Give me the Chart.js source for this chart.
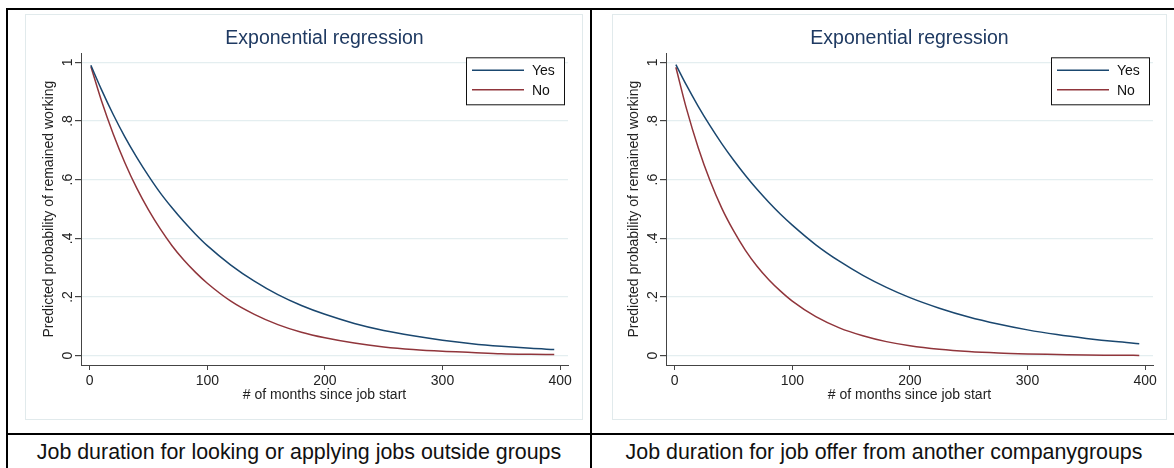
<!DOCTYPE html>
<html>
<head>
<meta charset="utf-8">
<script src="https://cdn.jsdelivr.net/npm/chart.js"></script>
<style>
  body { margin: 0; background: #fff; width: 1174px; height: 468px; overflow: hidden; position: relative; font-family: "Liberation Sans", Arial, sans-serif; }
  .rule { position: absolute; background: #000; }
  .frame { position: absolute; border: 1px solid #e1eaec; box-sizing: border-box; }
  canvas { position: absolute; }
  .caption { position: absolute; top: 435px; height: 35px; line-height: 35px; text-align: center; font-size: 21.4px; color: #111; white-space: nowrap; }
</style>
</head>
<body>
  <div class="rule" style="left:6px;top:8px;width:1170px;height:2px"></div>
  <div class="rule" style="left:6px;top:8px;width:2px;height:470px"></div>
  <div class="rule" style="left:590px;top:8px;width:2px;height:470px"></div>
  <div class="rule" style="left:6px;top:433px;width:1170px;height:2px"></div>

  <div class="frame" style="left:25px;top:14px;width:558px;height:406px"></div>
  <div class="frame" style="left:612px;top:14px;width:555px;height:406px"></div>

  <canvas id="chartLooking" width="557" height="406" style="left:25px;top:14px"></canvas>
  <canvas id="chartOffer" width="557" height="406" style="left:610px;top:14px"></canvas>

  <div class="caption" style="left:8px;width:582px">Job duration for looking or applying jobs outside groups</div>
  <div class="caption" style="left:592px;width:584px">Job duration for job offer from another companygroups</div>

<script>
// months since job start
const months = [1, 10, 20, 30, 40, 50, 60, 70, 80, 90, 100, 120, 140, 160, 180, 200, 225, 250, 275, 300, 325, 350, 375, 395];

// panel 1: looking or applying jobs outside groups
const yesLooking = [0.99, 0.907, 0.822, 0.745, 0.676, 0.613, 0.555, 0.504, 0.457, 0.414, 0.375, 0.309, 0.254, 0.208, 0.171, 0.141, 0.110, 0.086, 0.068, 0.053, 0.041, 0.032, 0.025, 0.021];
const noLooking = [0.986, 0.869, 0.756, 0.657, 0.571, 0.497, 0.432, 0.375, 0.326, 0.284, 0.247, 0.186, 0.141, 0.106, 0.080, 0.061, 0.043, 0.030, 0.021, 0.015, 0.011, 0.007, 0.005, 0.004];

// panel 2: job offer from another company
const yesOffer = [0.992, 0.922, 0.850, 0.784, 0.723, 0.667, 0.615, 0.567, 0.523, 0.482, 0.445, 0.378, 0.322, 0.274, 0.233, 0.198, 0.162, 0.132, 0.108, 0.088, 0.072, 0.059, 0.048, 0.041];
const noOffer = [0.983, 0.842, 0.709, 0.597, 0.503, 0.426, 0.360, 0.305, 0.259, 0.220, 0.186, 0.133, 0.095, 0.068, 0.048, 0.034, 0.022, 0.014, 0.009, 0.006, 0.004, 0.002, 0.0016, 0.001];

const seriesNames = ['Yes', 'No'];
const xTicks = [0, 100, 200, 300, 400];
const yTicks = [0, 0.2, 0.4, 0.6, 0.8, 1];
const yTickLabels = ['0', '.2', '.4', '.6', '.8', '1'];

const FONT = '"Liberation Sans", Arial, sans-serif';
const NAVY = '#1a476f';
const MAROON = '#90353b';

// stata style legend box in the upper right of the plot
const boxLegend = {
    id: 'boxLegend',
    afterDatasetsDraw(chart) {
        const ctx = chart.ctx;
        const area = chart.chartArea;
        const w = 98, h = 47;
        const left = area.right - 4 - w;
        const top = area.top + 4;
        ctx.save();
        ctx.fillStyle = '#fff';
        ctx.fillRect(left, top, w, h);
        ctx.strokeStyle = '#111';
        ctx.lineWidth = 1;
        ctx.strokeRect(left + 0.5, top + 0.5, w, h);
        ctx.font = '14px ' + FONT;
        ctx.textBaseline = 'middle';
        chart.data.datasets.forEach((ds, i) => {
            const y = top + 13 + i * 19.5;
            ctx.strokeStyle = ds.borderColor;
            ctx.lineWidth = 1.5;
            ctx.beginPath();
            ctx.moveTo(left + 6, y);
            ctx.lineTo(left + 58, y);
            ctx.stroke();
            ctx.fillStyle = '#111';
            ctx.fillText(ds.label, left + 66, y + 1);
        });
        ctx.restore();
    }
};

function makeChart(canvasId, yesData, noData) {
    const toPoints = (vals) => vals.map((v, i) => ({ x: months[i], y: v }));
    const data = {
        datasets: [{
            label: seriesNames[0],
            data: toPoints(yesData),
            borderColor: NAVY,
            borderWidth: 1.5,
            pointRadius: 0,
            cubicInterpolationMode: 'monotone'
        }, {
            label: seriesNames[1],
            data: toPoints(noData),
            borderColor: MAROON,
            borderWidth: 1.5,
            pointRadius: 0,
            cubicInterpolationMode: 'monotone'
        }]
    };

    const config = {
        type: 'line',
        data,
        options: {
            responsive: false,
            animation: false,
            layout: { padding: { left: 0, right: 14, top: 0, bottom: 0 } },
            plugins: {
                legend: { display: false },
                tooltip: { enabled: false },
                title: {
                    display: true,
                    text: 'Exponential regression',
                    fullSize: false,
                    color: '#1f3a62',
                    font: { family: FONT, size: 19.5, weight: 'normal' },
                    padding: { top: 13, bottom: 2.9 }
                }
            },
            scales: {
                x: {
                    type: 'linear',
                    min: -7.4,
                    max: 406.7,
                    afterBuildTicks: (scale) => { scale.ticks = xTicks.map(v => ({ value: v })); },
                    afterFit: (scale) => { scale.height = 55; },
                    grid: { display: true, drawOnChartArea: false, drawTicks: true, tickLength: 5, tickColor: '#444' },
                    border: { display: true, color: '#444', width: 1 },
                    ticks: { color: '#222', font: { family: FONT, size: 14 }, padding: 3, maxRotation: 0, autoSkip: false },
                    title: {
                        display: true,
                        text: '# of months since job start',
                        color: '#222',
                        font: { family: FONT, size: 14 },
                        padding: { top: 0, bottom: 16 }
                    }
                },
                y: {
                    min: -0.0317,
                    max: 1.0307,
                    afterBuildTicks: (scale) => { scale.ticks = yTicks.map(v => ({ value: v })); },
                    afterFit: (scale) => { scale.width = 56; },
                    grid: { color: '#e4eef0', lineWidth: 1.2, tickLength: 6, tickColor: '#444' },
                    border: { display: true, color: '#444', width: 1 },
                    ticks: {
                        color: '#222',
                        font: { family: FONT, size: 14 },
                        minRotation: 90,
                        maxRotation: 90,
                        crossAlign: 'center',
                        padding: 1,
                        autoSkip: false,
                        callback: (value) => {
                            const idx = yTicks.findIndex(t => Math.abs(t - value) < 1e-9);
                            return idx >= 0 ? yTickLabels[idx] : '';
                        }
                    },
                    title: {
                        display: true,
                        text: 'Predicted probability of remained working',
                        color: '#222',
                        font: { family: FONT, size: 14 },
                        padding: { top: 16, bottom: 0 }
                    }
                }
            }
        },
        plugins: [boxLegend]
    };

    return new Chart(document.getElementById(canvasId), config);
}

makeChart('chartLooking', yesLooking, noLooking);
makeChart('chartOffer', yesOffer, noOffer);
</script>
</body>
</html>
